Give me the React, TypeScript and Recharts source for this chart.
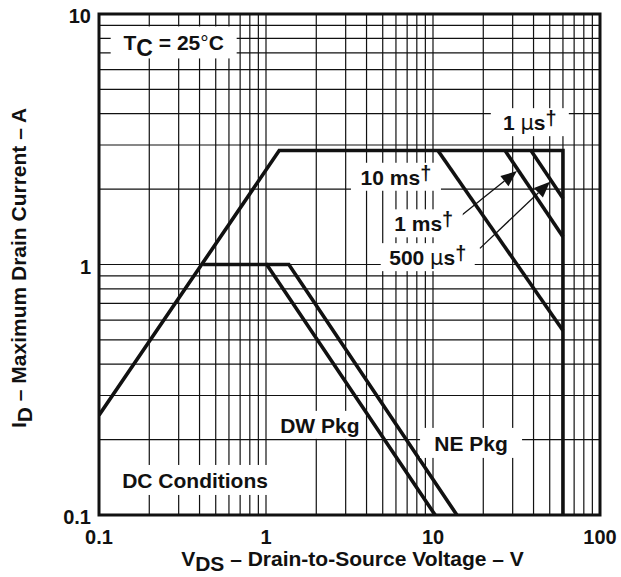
import React from "react";
import {
  LineChart,
  Line,
  XAxis,
  YAxis,
  CartesianGrid,
  ReferenceArea,
  ReferenceDot,
  ReferenceLine,
} from "recharts";

// Safe operating area, log-log: V_DS (V) vs I_D (A), T_C = 25 °C

// Pulse envelope: R_DS(on) limit, current limit, V_DS limit
const envelope = [
  { x: 0.1, y: 0.25 },
  { x: 1.2, y: 2.85 },
  { x: 60, y: 2.85 },
  { x: 60, y: 0.1 },
];
const pulse10ms = [
  { x: 10.7, y: 2.85 },
  { x: 60, y: 0.545 },
];
const pulse1ms = [
  { x: 27, y: 2.85 },
  { x: 60, y: 1.29 },
];
const pulse500us = [
  { x: 38.6, y: 2.85 },
  { x: 60, y: 1.84 },
];
// DC conditions, per package
const dcDW = [
  { x: 0.42, y: 1 },
  { x: 1.01, y: 1 },
  { x: 10.3, y: 0.1 },
];
const dcNE = [
  { x: 1.01, y: 1 },
  { x: 1.37, y: 1 },
  { x: 13.9, y: 0.1 },
];

// Log grid ticks and labelled decades
const xTicks = [
  0.1, 0.2, 0.3, 0.4, 0.5, 0.6, 0.7, 0.8, 0.9,
  1, 2, 3, 4, 5, 6, 7, 8, 9,
  10, 20, 30, 40, 50, 60, 70, 80, 90, 100,
];
const yTicks = [
  0.1, 0.2, 0.3, 0.4, 0.5, 0.6, 0.7, 0.8, 0.9,
  1, 2, 3, 4, 5, 6, 7, 8, 9, 10,
];
const xTickLabels = ["0.1", "1", "10", "100"];
const yTickLabels = ["0.1", "1", "10"];

// Annotation anchors (data coordinates)
const noteTc = { x: 0.28, y: 7.7 };
const note1us = { x: 38, y: 3.7 };
const note10ms = { x: 6.0, y: 2.24 };
const note1ms = { x: 8.8, y: 1.46 };
const note500us = { x: 9.3, y: 1.07 };
const noteDW = { x: 2.1, y: 0.229 };
const noteNE = { x: 16.9, y: 0.194 };
const noteDC = { x: 0.376, y: 0.138 };
const arrow1ms = [
  { x: 14.1, y: 1.53 },
  { x: 31.8, y: 2.36 },
];
const arrow500us = [
  { x: 19.1, y: 1.16 },
  { x: 50.2, y: 2.14 },
];

const FONT = "'Liberation Sans', Arial, Helvetica, sans-serif";
const FS = 21;
const TICK_FS = 20;
const INK = "#111";

const fmt = (v: number) => String(v);

const XTick = (props: any) => {
  const label = fmt(props.payload.value);
  if (!xTickLabels.includes(label)) return <g />;
  return (
    <text
      x={props.x}
      y={props.y}
      dy={27}
      textAnchor="middle"
      fontFamily={FONT}
      fontSize={TICK_FS}
      fontWeight="bold"
      fill={INK}
    >
      {label}
    </text>
  );
};

const YTick = (props: any) => {
  const label = fmt(props.payload.value);
  if (!yTickLabels.includes(label)) return <g />;
  return (
    <text
      x={props.x}
      y={props.y}
      dx={-6}
      dy={9}
      textAnchor="end"
      fontFamily={FONT}
      fontSize={TICK_FS}
      fontWeight="bold"
      fill={INK}
    >
      {label}
    </text>
  );
};

// Boxed note: white patch that breaks the grid, with the text on top
const boxed =
  (w: number, h: number, content: React.ReactNode, dx = 0) =>
  (p: any) => (
    <g>
      <rect x={p.cx - w / 2} y={p.cy - h / 2} width={w} height={h} fill="#fff" />
      <text
        x={p.cx + dx}
        y={p.cy + 8}
        textAnchor="middle"
        fontFamily={FONT}
        fontSize={FS}
        fontWeight="bold"
        fill={INK}
      >
        {content}
      </text>
    </g>
  );

const dagger = (
  <tspan dy={-5} fontSize={20} fontWeight="bold">
    {"\u2020"}
  </tspan>
);
const mu = (
  <tspan fontWeight="normal" fontFamily="'DejaVu Sans', sans-serif">
    {"\u03bc"}
  </tspan>
);

const arrowShape = (p: any) => {
  const { x1, y1, x2, y2 } = p;
  const ang = Math.atan2(y2 - y1, x2 - x1);
  const len = 16;
  const half = 6.5;
  const bx = x2 - len * Math.cos(ang);
  const by = y2 - len * Math.sin(ang);
  const nx = -Math.sin(ang) * half;
  const ny = Math.cos(ang) * half;
  return (
    <g>
      <line x1={x1} y1={y1} x2={bx} y2={by} stroke={INK} strokeWidth={1.3} />
      <polygon
        points={`${x2},${y2} ${bx + nx},${by + ny} ${bx - nx},${by - ny}`}
        fill={INK}
      />
    </g>
  );
};

const XTitle = (props: any) => {
  const vb = props.viewBox;
  const cx = vb.x + vb.width / 2 + 3;
  return (
    <text
      x={cx}
      y={566}
      textAnchor="middle"
      fontFamily={FONT}
      fontSize={FS}
      fontWeight="bold"
      fill={INK}
    >
      V
      <tspan dy={5}>DS</tspan>
      <tspan dy={-5}> – Drain-to-Source Voltage – V</tspan>
    </text>
  );
};

const YTitle = () => {
  const cx = 26;
  const cy = 268;
  return (
    <text
      x={cx}
      y={cy}
      transform={`rotate(-90 ${cx} ${cy})`}
      textAnchor="middle"
      fontFamily={FONT}
      fontSize={FS}
      fontWeight="bold"
      fill={INK}
    >
      I
      <tspan dy={6}>D</tspan>
      <tspan dy={-6}> – Maximum Drain Current – A</tspan>
    </text>
  );
};

const curveProps = {
  type: "linear" as const,
  dataKey: "y",
  stroke: INK,
  strokeWidth: 3.6,
  dot: false,
  activeDot: false,
  isAnimationActive: false,
  strokeLinejoin: "miter" as const,
};

export default function App() {
  return (
    <div style={{ position: "absolute", left: 0, top: 0, background: "#fff" }}>
      <LineChart
        width={621}
        height={577}
        margin={{ top: 14, right: 21, left: 0, bottom: 0 }}
      >
        <CartesianGrid stroke="#111" strokeWidth={1.2} />
        <XAxis
          dataKey="x"
          type="number"
          scale="log"
          domain={[0.1, 100]}
          ticks={xTicks}
          interval={0}
          allowDataOverflow
          axisLine={false}
          tickLine={false}
          tickSize={0}
          height={62}
          tick={<XTick />}
          label={<XTitle />}
        />
        <YAxis
          dataKey="y"
          type="number"
          scale="log"
          domain={[0.1, 10]}
          ticks={yTicks}
          interval={0}
          allowDataOverflow
          axisLine={false}
          tickLine={false}
          tickSize={0}
          width={99}
          tick={<YTick />}
          label={<YTitle />}
        />

        <ReferenceDot
          x={noteTc.x}
          y={noteTc.y}
          shape={boxed(126, 32, [
            "T",
            <tspan key="s" dy={6} fontSize={23}>C</tspan>,
            <tspan key="r" dy={-6}> = 25</tspan>,
            <tspan key="d" fontWeight="normal">°</tspan>,
            "C",
          ])}
        />
        <ReferenceDot
          x={note1us.x}
          y={note1us.y}
          shape={boxed(78, 28, ["1 ", mu, "s", dagger])}
        />
        <ReferenceDot
          x={note10ms.x}
          y={note10ms.y}
          shape={boxed(90, 28, ["10 ms", dagger])}
        />
        <ReferenceDot
          x={note1ms.x}
          y={note1ms.y}
          shape={boxed(78, 28, ["1 ms", dagger])}
        />
        <ReferenceDot
          x={note500us.x}
          y={note500us.y}
          shape={boxed(94, 28, ["500 ", mu, "s", dagger])}
        />
        <ReferenceDot
          x={noteDW.x}
          y={noteDW.y}
          shape={boxed(78, 28, "DW Pkg")}
        />
        <ReferenceDot
          x={noteNE.x}
          y={noteNE.y}
          shape={boxed(102, 30, "NE Pkg")}
        />
        <ReferenceDot
          x={noteDC.x}
          y={noteDC.y}
          shape={boxed(168, 30, "DC Conditions")}
        />

        <Line {...curveProps} data={envelope} />
        <Line {...curveProps} data={pulse10ms} />
        <Line {...curveProps} data={pulse1ms} />
        <Line {...curveProps} data={pulse500us} />
        <Line {...curveProps} data={dcDW} />
        <Line {...curveProps} data={dcNE} />

        <ReferenceLine
          segment={arrow1ms}
          shape={arrowShape}
          ifOverflow="visible"
        />
        <ReferenceLine
          segment={arrow500us}
          shape={arrowShape}
          ifOverflow="visible"
        />

        <ReferenceArea
          x1={0.1}
          x2={100}
          y1={0.1}
          y2={10}
          fill="none"
          stroke={INK}
          strokeWidth={3}
          ifOverflow="visible"
        />
      </LineChart>
    </div>
  );
}
